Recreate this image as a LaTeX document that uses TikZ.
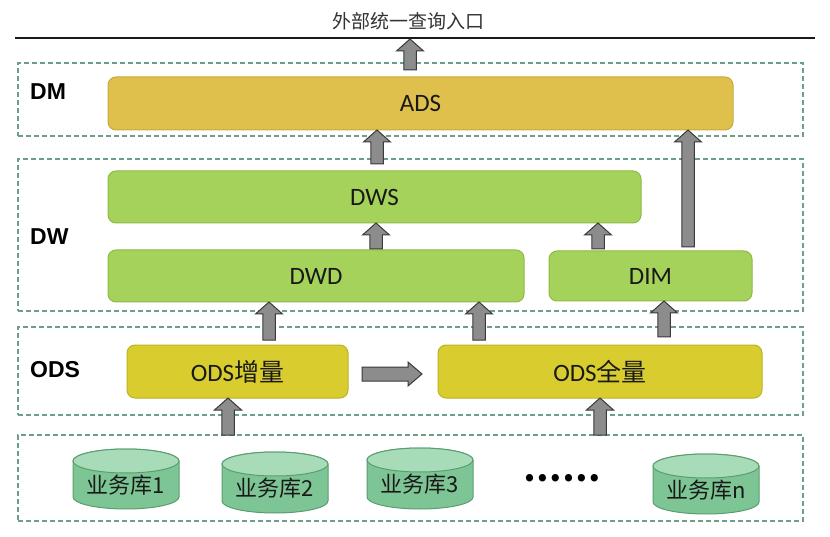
\documentclass[tikz,border=0pt]{standalone}
\usepackage{fontspec}
\setmainfont{Carlito}
\newfontfamily\cjk{Noto Sans CJK SC}
\newfontfamily\lab{Liberation Sans}
\usetikzlibrary{calc}
\definecolor{framec}{HTML}{6E9E8A}
\definecolor{adsc}{HTML}{E0C04C}
\definecolor{adsl}{HTML}{C9A93A}
\definecolor{dwc}{HTML}{A5D25A}
\definecolor{dwl}{HTML}{8DBA45}
\definecolor{odsc}{HTML}{D8CC2E}
\definecolor{odsl}{HTML}{BFB224}
\definecolor{cylbodyc}{HTML}{7DC594}
\definecolor{cyltopc}{HTML}{A8DCB8}
\definecolor{cyll}{HTML}{5A9E70}
\definecolor{arrf}{HTML}{8C8C8C}
\definecolor{arrl}{HTML}{3A3A3A}
\tikzset{
  frame/.style={draw=framec, line width=1.6pt, dash pattern=on 5pt off 3pt,
    inner sep=0pt, outer sep=0pt, anchor=north west},
  box/.style={rounded corners=8pt, line width=1pt, inner sep=0pt, outer sep=0pt,
    anchor=north west, font=\fontsize{25}{30}\selectfont, text=black!90},
  adsbox/.style={box, fill=adsc, draw=adsl},
  dwbox/.style={box, fill=dwc, draw=dwl},
  odsbox/.style={box, fill=odsc, draw=odsl},
  layerlabel/.style={anchor=west, font=\lab\bfseries\fontsize{23}{26}\selectfont, inner sep=0pt},
  blockarr/.style={fill=arrf, draw=arrl, line width=1pt, line join=miter},
  cylbody/.style={fill=cylbodyc, draw=cyll, line width=1pt},
  cyltop/.style={fill=cyltopc, draw=cyll, line width=1pt},
  cyltext/.style={font=\cjk\fontsize{22}{25}\selectfont, text=black!90, inner sep=0pt},
}
% vertical block arrow: x, source anchor, target anchor, gap at base
\newcommand\barup[4]{%
  \draw[blockarr] let \p1=(#1,0 |- #2), \p2=(#1,0 |- #3) in
    (\x1-6.25pt,\y1+#4) -- (\x1-6.25pt,\y2-12pt) -- (\x1-13.5pt,\y2-12pt) --
    (\x1,\y2) -- (\x1+13.5pt,\y2-12pt) -- (\x1+6.25pt,\y2-12pt) --
    (\x1+6.25pt,\y1+#4) -- cycle;}
% horizontal block arrow: y, source anchor, target anchor
\newcommand\barright[3]{%
  \draw[blockarr] let \p1=(#2 |- 0,#1), \p2=(#3 |- 0,#1) in
    (\x1+14pt,\y1-7pt) -- (\x2-30pt,\y1-7pt) -- (\x2-30pt,\y1-12pt) --
    (\x2-16pt,\y1) -- (\x2-30pt,\y1+12pt) -- (\x2-30pt,\y1+7pt) --
    (\x1+14pt,\y1+7pt) -- cycle;}
% database cylinder: name, center x, top y, bottom y, text
\newcommand\dbcyl[5]{%
  \path[cylbody] (#2-53,#3+12) -- (#2-53,#4-12)
    arc[start angle=180,end angle=0,x radius=53,y radius=12]
    -- (#2+53,#3+12)
    arc[start angle=0,end angle=-180,x radius=53,y radius=12] -- cycle;
  \path[cyltop] (#2,#3+12) ellipse[x radius=53,y radius=12];
  \node[cyltext] (#1) at (#2,{(#3+#4)/2+6}) {#5};}
\begin{document}
\begin{tikzpicture}[x=1pt,y=-1pt]
\useasboundingbox[fill=white] (0,0) rectangle (830,537);
% top entry
\node[font=\cjk\fontsize{19}{22}\selectfont, text=black!80] (entrytext) at (408,21) {外部统一查询入口};
\coordinate (lineL) at (15,38);
\coordinate (lineR) at (815,38);
\draw[line width=1.8pt, black!90] (lineL) -- (lineR);
\coordinate (entry) at (410,39);
% frames
\node[frame, minimum width=785, minimum height=73] (dmf) at (18,63) {};
\node[frame, minimum width=785, minimum height=152] (dwf) at (18,159) {};
\node[frame, minimum width=785, minimum height=88] (odsf) at (18,327) {};
\node[frame, minimum width=785, minimum height=86] (srcf) at (18,435) {};
% labels
\node[layerlabel] (dmlab) at (30,92) {DM};
\node[layerlabel] (dwlab) at (30,237) {DW};
\node[layerlabel] (odslab) at (30,370) {ODS};
% boxes
\node[adsbox, minimum width=625, minimum height=53] (ADS) at (108,77) {ADS};
\node[dwbox, minimum width=533, minimum height=52] (DWS) at (108,171) {DWS};
\node[dwbox, minimum width=416, minimum height=52] (DWD) at (108,250) {DWD};
\node[dwbox, minimum width=203, minimum height=50] (DIM) at (549,251) {DIM};
\node[odsbox, minimum width=221, minimum height=53] (ODSinc) at (127,345) {ODS{\cjk 增量}};
\node[odsbox, minimum width=324, minimum height=53] (ODSall) at (438,345) {ODS{\cjk 全量}};
% databases
\dbcyl{db1}{126}{449}{509}{业务库1}
\dbcyl{db2}{275}{452}{513}{业务库2}
\dbcyl{db3}{420}{448}{509}{业务库3}
\dbcyl{dbn}{706}{454}{514}{业务库n}
\node[font=\cjk\bfseries\fontsize{34}{36}\selectfont, inner sep=0pt] (dots) at (562,478) {……};
% arrows
\barup{410}{ADS.north}{entry}{7pt}
\barup{377}{DWS.north}{ADS.south}{7pt}
\barup{688}{DIM.north}{ADS.south}{4pt}
\barup{376}{DWD.north}{DWS.south}{1pt}
\barup{598}{DIM.north}{DWS.south}{2pt}
\barup{269}{ODSinc.north}{DWD.south}{5pt}
\barup{479}{ODSall.north}{DWD.south}{5pt}
\barup{664}{ODSall.north}{DIM.south}{8pt}
\barup{228}{srcf.north}{ODSinc.south}{0pt}
\barup{600}{srcf.north}{ODSall.south}{0pt}
\barright{374}{ODSinc.east}{ODSall.west}
\end{tikzpicture}
\end{document}
